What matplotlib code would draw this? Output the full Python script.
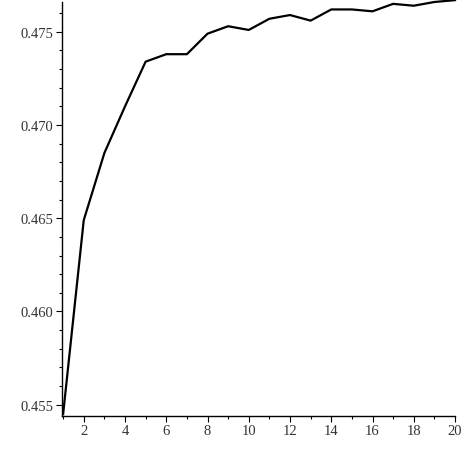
import matplotlib
matplotlib.use("Agg")
import matplotlib.pyplot as plt
from matplotlib.ticker import MultipleLocator, FormatStrFormatter

x_vals = list(range(1, 21))
y_vals = [0.4545, 0.4649, 0.4685, 0.4710, 0.4734, 0.4738, 0.4738, 0.4749, 0.4753, 0.4751,
          0.4757, 0.4759, 0.4756, 0.4762, 0.4762, 0.4761, 0.4765, 0.4764, 0.4766, 0.4767]
x_ticks = [2, 4, 6, 8, 10, 12, 14, 16, 18, 20]
y_ticks = [0.455, 0.460, 0.465, 0.470, 0.475]

fig = plt.figure(figsize=(4.67, 4.60), dpi=100)
ax = fig.add_axes([0.1321, 0.0941, 0.8422, 0.8994])
ax.plot(x_vals, y_vals, color="black", linewidth=1.6, clip_on=False)
ax.set_xlim(0.93, 20)
ax.set_ylim(0.45441, 0.4766)
ax.spines["top"].set_visible(False)
ax.spines["right"].set_visible(False)
for s in ("left", "bottom"):
    ax.spines[s].set_linewidth(1.0)
ax.set_xticks(x_ticks)
ax.set_yticks(y_ticks)
ax.yaxis.set_major_formatter(FormatStrFormatter("%.3f"))
ax.xaxis.set_minor_locator(MultipleLocator(1))
ax.yaxis.set_minor_locator(MultipleLocator(0.001))
ax.tick_params(which="major", length=4, width=0.8, labelsize=10.5, labelcolor="#333333", pad=2)
ax.tick_params(which="minor", length=2.5, width=0.8)
for lbl in ax.get_xticklabels() + ax.get_yticklabels():
    lbl.set_fontfamily("Liberation Serif")
fig.savefig("out.png", dpi=100)
